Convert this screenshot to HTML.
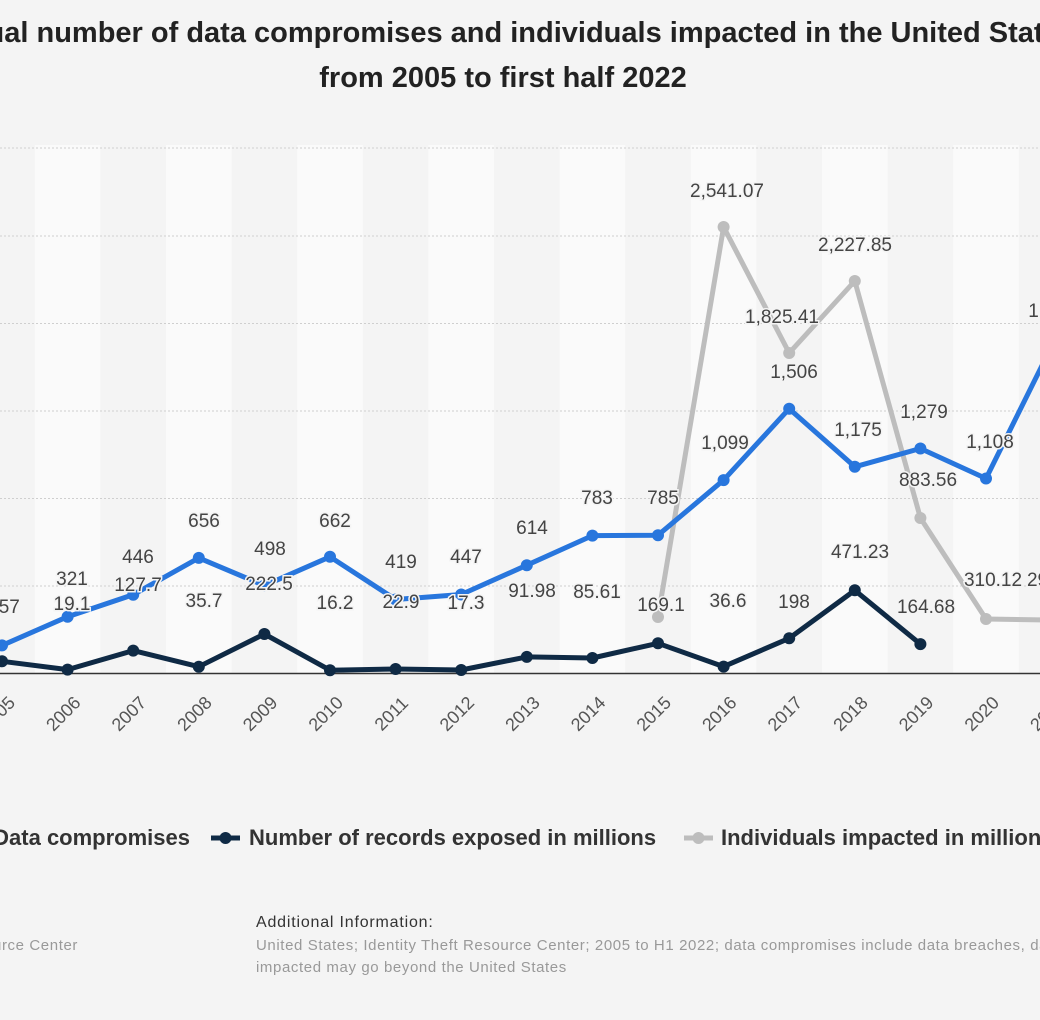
<!DOCTYPE html>
<html><head><meta charset="utf-8"><style>
html,body{margin:0;padding:0;background:#f4f4f4;}
svg{display:block;font-family:"Liberation Sans",Arial,sans-serif;}
</style></head><body>
<svg width="1040" height="1020" viewBox="0 0 1040 1020" xmlns="http://www.w3.org/2000/svg">
<rect width="1040" height="1020" fill="#f4f4f4"/>
<g fill="#fafafa">
<rect x="34.8" y="145" width="65.6" height="528"/>
<rect x="166" y="145" width="65.6" height="528"/>
<rect x="297.2" y="145" width="65.6" height="528"/>
<rect x="428.4" y="145" width="65.6" height="528"/>
<rect x="559.6" y="145" width="65.6" height="528"/>
<rect x="690.8" y="145" width="65.6" height="528"/>
<rect x="822" y="145" width="65.6" height="528"/>
<rect x="953.2" y="145" width="65.6" height="528"/>
</g>
<g stroke="#cfcfcf" stroke-width="1" stroke-dasharray="2,2">
<line x1="0" x2="1040" y1="148" y2="148"/>
<line x1="0" x2="1040" y1="236" y2="236"/>
<line x1="0" x2="1040" y1="323.5" y2="323.5"/>
<line x1="0" x2="1040" y1="411" y2="411"/>
<line x1="0" x2="1040" y1="498.5" y2="498.5"/>
<line x1="0" x2="1040" y1="586" y2="586"/>
</g>
<line x1="0" x2="1040" y1="673.5" y2="673.5" stroke="#333" stroke-width="1.5"/>
<text x="503" y="42" text-anchor="middle" font-size="29" font-weight="bold" fill="#222">Annual number of data compromises and individuals impacted in the United States</text>
<text x="503" y="87" text-anchor="middle" font-size="29" font-weight="bold" fill="#222">from 2005 to first half 2022</text>
<!-- gray -->
<polyline fill="none" stroke="#bdbdbd" stroke-width="5" stroke-linejoin="round" points="658,617 723.6,227 789.2,353 854.8,281 920.4,518 986,619 1051.6,620"/>
<g fill="#bdbdbd"><circle cx="658" cy="617" r="6"/><circle cx="723.6" cy="227" r="6"/><circle cx="789.2" cy="353" r="6"/><circle cx="854.8" cy="281" r="6"/><circle cx="920.4" cy="518" r="6"/><circle cx="986" cy="619" r="6"/></g>
<!-- blue -->
<polyline fill="none" stroke="#2876dd" stroke-width="5" stroke-linejoin="round" points="2,645.4 67.6,616.7 133.2,594.7 198.8,557.9 264.4,585.6 330,556.8 395.6,599.5 461.2,594.5 526.8,565.2 592.4,535.6 658,535.2 723.6,480.1 789.2,408.7 854.8,466.8 920.4,448.5 986,478.5 1051.6,346.2"/>
<g fill="#2876dd"><circle cx="2" cy="645.4" r="6"/><circle cx="67.6" cy="616.7" r="6"/><circle cx="133.2" cy="594.7" r="6"/><circle cx="198.8" cy="557.9" r="6"/><circle cx="264.4" cy="585.6" r="6"/><circle cx="330" cy="556.8" r="6"/><circle cx="395.6" cy="599.5" r="6"/><circle cx="461.2" cy="594.5" r="6"/><circle cx="526.8" cy="565.2" r="6"/><circle cx="592.4" cy="535.6" r="6"/><circle cx="658" cy="535.2" r="6"/><circle cx="723.6" cy="480.1" r="6"/><circle cx="789.2" cy="408.7" r="6"/><circle cx="854.8" cy="466.8" r="6"/><circle cx="920.4" cy="448.5" r="6"/><circle cx="986" cy="478.5" r="6"/></g>
<!-- dark -->
<polyline fill="none" stroke="#0f2a45" stroke-width="5" stroke-linejoin="round" points="2,661.3 67.6,669.6 133.2,650.6 198.8,666.7 264.4,634 330,670.2 395.6,669 461.2,670 526.8,656.9 592.4,658 658,643.3 723.6,666.6 789.2,638.3 854.8,590.3 920.4,644.1"/>
<g fill="#0f2a45"><circle cx="2" cy="661.3" r="6"/><circle cx="67.6" cy="669.6" r="6"/><circle cx="133.2" cy="650.6" r="6"/><circle cx="198.8" cy="666.7" r="6"/><circle cx="264.4" cy="634" r="6"/><circle cx="330" cy="670.2" r="6"/><circle cx="395.6" cy="669" r="6"/><circle cx="461.2" cy="670" r="6"/><circle cx="526.8" cy="656.9" r="6"/><circle cx="592.4" cy="658" r="6"/><circle cx="658" cy="643.3" r="6"/><circle cx="723.6" cy="666.6" r="6"/><circle cx="789.2" cy="638.3" r="6"/><circle cx="854.8" cy="590.3" r="6"/><circle cx="920.4" cy="644.1" r="6"/></g>
<!-- labels -->
<g font-size="19" fill="#444" text-anchor="middle" stroke="#f4f4f4" stroke-width="3" paint-order="stroke">
<text x="4" y="613">157</text><text x="72" y="585">321</text><text x="138" y="563">446</text><text x="204" y="527">656</text><text x="270" y="555">498</text><text x="335" y="527">662</text><text x="401" y="568">419</text><text x="466" y="563">447</text><text x="532" y="534">614</text><text x="597" y="504">783</text><text x="663" y="504">785</text><text x="725" y="449">1,099</text><text x="794" y="378">1,506</text><text x="858" y="436">1,175</text><text x="924" y="418">1,279</text><text x="990" y="448">1,108</text><text x="1052" y="317">1,862</text>
<text x="72" y="610">19.1</text><text x="138" y="591">127.7</text><text x="204" y="607">35.7</text><text x="269" y="590">222.5</text><text x="335" y="609">16.2</text><text x="401" y="608">22.9</text><text x="466" y="609">17.3</text><text x="532" y="597">91.98</text><text x="597" y="598">85.61</text><text x="661" y="611">169.1</text><text x="728" y="607">36.6</text><text x="794" y="608">198</text><text x="860" y="558">471.23</text><text x="926" y="613">164.68</text>
<text x="727" y="197">2,541.07</text><text x="782" y="323">1,825.41</text><text x="855" y="251">2,227.85</text><text x="928" y="486">883.56</text><text x="993" y="586">310.12</text><text x="1056" y="586">293.49</text>
</g>
<g font-size="18" fill="#555" text-anchor="middle">
<text transform="translate(2,718) rotate(-45)">2005</text>
<text transform="translate(67.6,718) rotate(-45)">2006</text>
<text transform="translate(133.2,718) rotate(-45)">2007</text>
<text transform="translate(198.8,718) rotate(-45)">2008</text>
<text transform="translate(264.4,718) rotate(-45)">2009</text>
<text transform="translate(330,718) rotate(-45)">2010</text>
<text transform="translate(395.6,718) rotate(-45)">2011</text>
<text transform="translate(461.2,718) rotate(-45)">2012</text>
<text transform="translate(526.8,718) rotate(-45)">2013</text>
<text transform="translate(592.4,718) rotate(-45)">2014</text>
<text transform="translate(658,718) rotate(-45)">2015</text>
<text transform="translate(723.6,718) rotate(-45)">2016</text>
<text transform="translate(789.2,718) rotate(-45)">2017</text>
<text transform="translate(854.8,718) rotate(-45)">2018</text>
<text transform="translate(920.4,718) rotate(-45)">2019</text>
<text transform="translate(986,718) rotate(-45)">2020</text>
<text transform="translate(1051.6,718) rotate(-45)">2021</text>
</g>
<!-- legend -->
<g font-size="22" font-weight="bold" fill="#333">
<text x="190" y="845" text-anchor="end">Data compromises</text>
<line x1="211" x2="240" y1="838" y2="838" stroke="#0f2a45" stroke-width="5"/><circle cx="225.5" cy="838" r="6" fill="#0f2a45"/>
<text x="249" y="845">Number of records exposed in millions</text>
<line x1="684" x2="713" y1="838" y2="838" stroke="#bdbdbd" stroke-width="5"/><circle cx="698.5" cy="838" r="6" fill="#bdbdbd"/>
<text x="721" y="845">Individuals impacted in millions</text>
</g>
<text x="256" y="927" font-size="16" fill="#333" letter-spacing="0.8">Additional Information:</text>
<text x="256" y="950" font-size="15" fill="#999" letter-spacing="0.6">United States; Identity Theft Resource Center; 2005 to H1 2022; data compromises include data breaches, data exposure and data leaks; individuals</text>
<text x="256" y="972" font-size="15" fill="#999" letter-spacing="0.6">impacted may go beyond the United States</text>
<text x="78" y="950" font-size="15" fill="#999" text-anchor="end" letter-spacing="0.6">Identity Theft Resource Center</text>
</svg>
</body></html>
